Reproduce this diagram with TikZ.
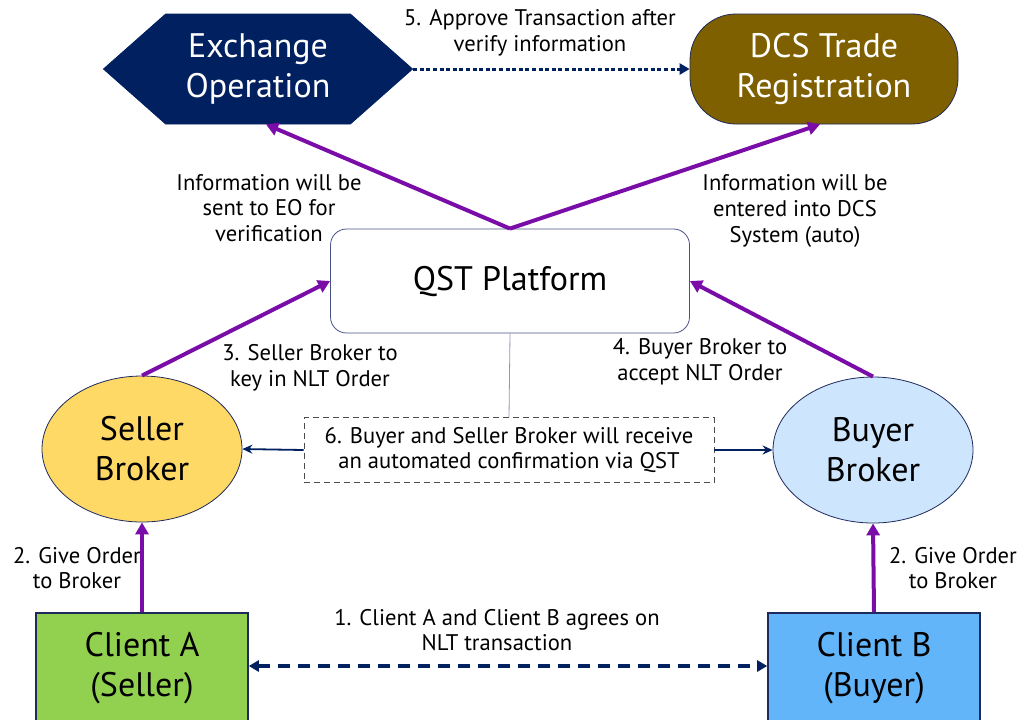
\documentclass[tikz,border=0pt]{standalone}
\usepackage{fontspec}
\setmainfont{PT Sans}
\usetikzlibrary{shapes,arrows.meta,positioning,calc}

\definecolor{navy}{HTML}{002060}
\definecolor{edgeblue}{HTML}{1F2A5C}
\definecolor{platformedge}{HTML}{4A5287}
\definecolor{olivebrown}{HTML}{7F6000}
\definecolor{flowpurple}{HTML}{7A0CA8}
\definecolor{sellerfill}{HTML}{FFD966}
\definecolor{buyerfill}{HTML}{CDE6FD}
\definecolor{clientafill}{HTML}{92D050}
\definecolor{clientbfill}{HTML}{63B5FA}

\begin{document}
\begin{tikzpicture}[x=0.5pt,y=-0.5pt]
  \tikzstyle{big}=[align=center, font=\fontsize{17}{20}\selectfont]
  \tikzstyle{lbl}=[align=center, font=\fontsize{11.3}{12.8}\selectfont]
  \tikzstyle{broker}=[big, ellipse, draw=edgeblue, thin, minimum width=100pt, minimum height=73pt, inner sep=0pt]
  \tikzstyle{client}=[big, rectangle, draw=edgeblue, thick, minimum width=106pt, minimum height=55pt, inner sep=0pt]
  \tikzstyle{flow}=[-{Triangle[length=6pt,width=6.5pt]}, line width=2pt, flowpurple]
  \tikzstyle{notice}=[-{Stealth[length=5pt,width=4.5pt]}, line width=0.9pt, navy]

  \useasboundingbox (0,0) rectangle (1026,719);

  % Top row
  \node[big, signal, signal to=west and east, signal pointer angle=83, minimum width=154.5pt, minimum height=55pt, fill=navy, draw=navy, text=white, inner sep=0pt] (eo) at (258,69) {Exchange\\Operation};
  \node[big, rectangle, rounded corners=23pt, minimum width=134pt, minimum height=55pt, fill=olivebrown, draw=edgeblue, thin, text=white] (dcs) at (824,69) {DCS Trade\\Registration};

  % Platform and brokers
  \node[rectangle, rounded corners=8pt, draw=platformedge, thin, fill=white, minimum width=179.5pt, minimum height=52pt, font=\fontsize{17}{21}\selectfont] (qst) at (510,281) {QST Platform};
  \node[broker, fill=sellerfill] (sb) at (142,449) {Seller\\Broker};
  \node[broker, fill=buyerfill] (bb) at (873,450) {Buyer\\Broker};
  \node[lbl, draw=black!70, densely dashed, thin, minimum width=205pt, minimum height=32.5pt] (conf) at (509,450) {6. Buyer and Seller Broker will receive\\an automated confirmation via QST};

  % Clients
  \node[client, fill=clientafill] (ca) at (142,668) {Client A\\(Seller)};
  \node[client, fill=clientbfill] (cb) at (874,668) {Client B\\(Buyer)};

  % Labels
  \node[lbl] (l5) at (540,33) {5. Approve Transaction after\\verify information};
  \node[lbl] (leo) at (269,208) {Information will be\\sent to EO for\\verification};
  \node[lbl] (ldcs) at (795,211) {Information will be\\entered into DCS\\System (auto)};
  \node[lbl] (l3) at (310,368) {3. Seller Broker to\\key in NLT Order};
  \node[lbl] (l4) at (700,362) {4. Buyer Broker to\\accept NLT Order};
  \node[lbl] (l2a) at (77,568) {2. Give Order\\to Broker};
  \node[lbl] (l2b) at (953,568) {2. Give Order\\to Broker};
  \node[lbl] (l1) at (497,630) {1. Client A and Client B agrees on\\NLT transaction};

  % Connectors
  \draw[-{Triangle[length=5pt,width=5.5pt]}, navy, line width=1.5pt, dash pattern=on 2pt off 1.3pt] (eo.east) -- (dcs.west);
  \draw[flow] (qst.north) -- ([xshift=4pt]eo.south);
  \draw[flow] (qst.north) -- ([xshift=-2pt]dcs.south);
  \draw[flow] (sb.north) -- (qst.west);
  \draw[flow] (bb.north) -- (qst.east);
  \draw[flow] (ca.north) -- (sb.south);
  \draw[flow] (cb.north) -- (bb.south);
  \draw[platformedge!60, thin] (qst.south) -- (conf.north);
  \draw[notice] (conf.west) -- (sb.east);
  \draw[notice] (conf.east) -- (bb.west);
  \draw[{Triangle[length=5pt,width=5.5pt]}-{Triangle[length=5pt,width=5.5pt]}, navy, line width=1.6pt, dash pattern=on 6pt off 4pt] (ca.east |- 0,666) -- (cb.west |- 0,666);
\end{tikzpicture}
\end{document}
